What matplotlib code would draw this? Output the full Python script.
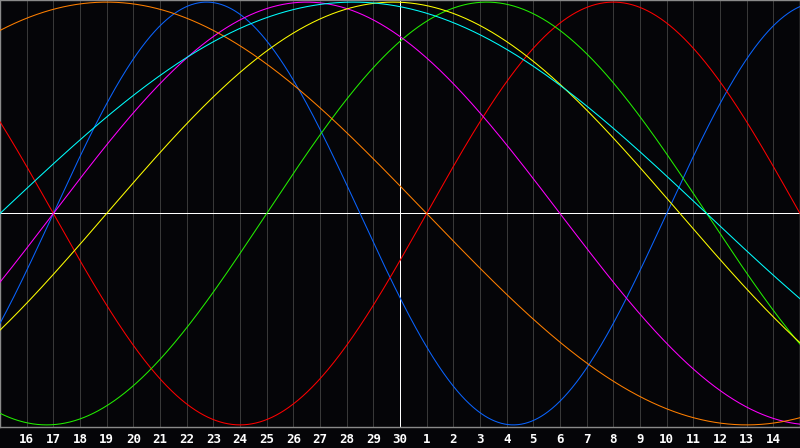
import numpy as np
import matplotlib.pyplot as plt

# day labels along the bottom (today = 30, at the middle)
day_labels = ["16", "17", "18", "19", "20", "21", "22", "23", "24", "25",
              "26", "27", "28", "29", "30", "1", "2", "3", "4", "5",
              "6", "7", "8", "9", "10", "11", "12", "13", "14"]
today_index = 15

# cycle lengths (days) and the chart day where each cycle crosses zero upward
cycles = ["physical", "emotional", "intellectual", "intuitive",
          "aesthetic", "awareness", "spiritual"]
periods = [23, 28, 33, 38, 43, 48, 53]
zero_days = [2, 16, 10, 2, 4, -8, 0]
colors = ["#0a64ff", "#ff0000", "#22ee00", "#ff00ff",
          "#ffff00", "#ff7f00", "#00ffff"]

bg = "#050508"
fig = plt.figure(figsize=(8, 4.48), dpi=100, facecolor=bg)
ax = fig.add_axes([0, 21 / 448, 1, 427 / 448], facecolor=bg)

x = np.linspace(0, 30, 1201)
for name, p, z, c in zip(cycles, periods, zero_days, colors):
    ax.plot(x, np.sin(2 * np.pi * (x - z) / p), color=c, lw=0.75,
            label=name, zorder=3)

ticks = np.arange(1, len(day_labels) + 1)
for t in ticks:
    if t != today_index:
        ax.axvline(t, color="#383838", lw=0.7, antialiased=False, zorder=1)
ax.axvline(today_index, color="white", lw=0.7, antialiased=False, zorder=2)
ax.axhline(0, color="white", lw=0.7, antialiased=False, zorder=2)

ax.set_xlim(0, 30)
ax.set_ylim(-1.01, 1.01)
ax.set_xticks(ticks)
ax.set_xticklabels(day_labels, color="white", fontsize=9,
                   family="DejaVu Sans Mono", fontweight="bold")
ax.set_yticks([])
ax.tick_params(axis="x", length=0, pad=4)
for s in ax.spines.values():
    s.set_color("#8a8a8a")
    s.set_linewidth(1.0)

fig.savefig("out.png", dpi=100, facecolor=bg)
